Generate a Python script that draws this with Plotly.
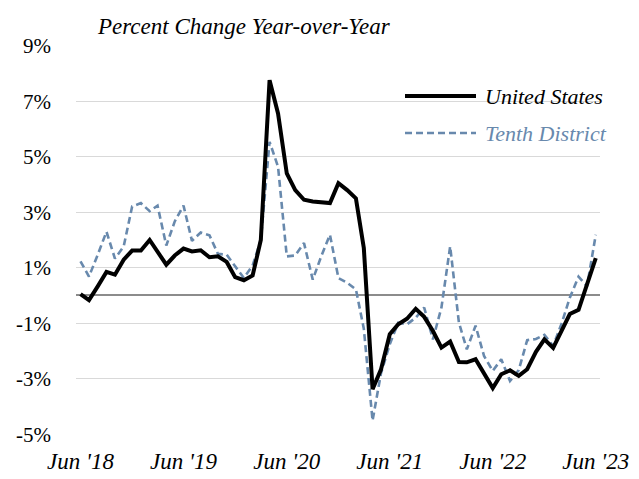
import pandas as pd
import plotly.graph_objects as go

months = pd.date_range("2018-06-01", periods=61, freq="MS")

united_states = [
    0.05, -0.17, 0.33, 0.85, 0.75, 1.29, 1.62, 1.62, 2.00, 1.56,
    1.11, 1.44, 1.69, 1.59, 1.63, 1.38, 1.41, 1.21, 0.66, 0.55,
    0.72, 2.00, 7.76, 6.56, 4.40, 3.80, 3.45, 3.39, 3.36, 3.33,
    4.05, 3.80, 3.50, 1.71, -3.38, -2.66, -1.40, -1.04, -0.84, -0.48,
    -0.77, -1.28, -1.88, -1.66, -2.40, -2.41, -2.30, -2.84, -3.34, -2.84,
    -2.70, -2.90, -2.66, -2.03, -1.58, -1.89, -1.28, -0.67, -0.52, 0.37,
    1.35,
]

tenth_district = [
    1.23, 0.68, 1.47, 2.30, 1.33, 1.77, 3.21, 3.33, 3.04, 3.24,
    1.80, 2.67, 3.24, 1.97, 2.27, 2.17, 1.50, 1.47, 1.05, 0.63,
    1.08, 2.00, 5.54, 4.64, 1.41, 1.44, 1.89, 0.57, 1.41, 2.19,
    0.63, 0.46, 0.22, -1.20, -4.51, -2.80, -1.76, -0.98, -1.04, -0.80,
    -0.44, -1.58, -0.44, 1.77, -0.98, -1.94, -1.09, -2.18, -2.72, -2.30,
    -3.08, -2.69, -1.61, -1.57, -1.42, -1.82, -0.98, -0.08, 0.68, 0.33,
    2.19,
]

tick_dates = ["2018-06-01", "2019-06-01", "2020-06-01", "2021-06-01", "2022-06-01", "2023-06-01"]
tick_labels = ["Jun '18", "Jun '19", "Jun '20", "Jun '21", "Jun '22", "Jun '23"]
y_ticks = [-5, -3, -1, 1, 3, 5, 7, 9]
y_labels = [f"{v}%" for v in y_ticks]

series_names = ["United States", "Tenth District"]
us_color = "#000000"
td_color = "#6889AD"
font_family = "Liberation Serif"

fig = go.Figure()
fig.add_trace(go.Scatter(
    x=months, y=tenth_district, mode="lines", name=series_names[1],
    line=dict(color=td_color, width=2.6, dash="7px,4px"),
    showlegend=False,
))
fig.add_trace(go.Scatter(
    x=months, y=united_states, mode="lines", name=series_names[0],
    line=dict(color=us_color, width=4),
    showlegend=False,
))

# plot area pixel geometry helpers
L, R, T, B = 76, 39, 45, 44
W, H = 639, 479
pw, ph = W - L - R, H - T - B


def px(x):
    return (x - L) / pw


def py(y):
    return (H - B - y) / ph


shapes = [
    dict(type="rect", xref="paper", yref="paper", x0=px(383), x1=px(600),
         y0=py(182), y1=py(60), fillcolor="white", line=dict(width=0), layer="between"),
    dict(type="line", xref="paper", yref="paper", x0=px(405), x1=px(476),
         y0=py(96), y1=py(96), line=dict(color=us_color, width=4)),
    dict(type="line", xref="paper", yref="paper", x0=px(405), x1=px(476),
         y0=py(133), y1=py(133), line=dict(color=td_color, width=2.6, dash="7px,4px")),
]

annotations = [
    dict(text="<i>Percent Change Year-over-Year</i>", xref="paper", yref="paper",
         x=px(95), y=py(27), xanchor="left", yanchor="middle", showarrow=False,
         font=dict(family=font_family, size=23)),
    dict(text=f"<i>{series_names[0]}</i>", xref="paper", yref="paper",
         x=px(483), y=py(96), xanchor="left", yanchor="middle", showarrow=False,
         font=dict(family=font_family, size=22)),
    dict(text=f"<i><span style='color:{td_color}'>{series_names[1]}</span></i>", xref="paper", yref="paper",
         x=px(483), y=py(133), xanchor="left", yanchor="middle", showarrow=False,
         font=dict(family=font_family, size=22)),
]

fig.update_layout(
    width=W, height=H,
    margin=dict(l=L, r=R, t=T, b=B, autoexpand=False),
    paper_bgcolor="white", plot_bgcolor="white",
    shapes=shapes, annotations=annotations,
    showlegend=False,
    font=dict(family=font_family, color="#000000"),
)

fig.update_xaxes(
    range=["2018-05-16", "2023-06-16"],
    tickvals=tick_dates, ticktext=[f"<i>{t}</i>" for t in tick_labels],
    showgrid=False, zeroline=False, showline=False,
    ticks="", ticklabelstandoff=10, automargin=False,
    tickfont=dict(family=font_family, size=23),
)
fig.update_yaxes(
    range=[-5.03, 9.03],
    tickvals=y_ticks, ticktext=y_labels,
    showgrid=True, gridcolor="#d9d9d9", gridwidth=1.3,
    zeroline=True, zerolinecolor="#8c8c8c", zerolinewidth=1.6,
    showline=False, ticks="", ticklabelstandoff=24, automargin=False,
    tickfont=dict(family=font_family, size=21),
)

fig.write_html("out.html", config={"displayModeBar": False},
               post_script="document.body.style.margin='0';")
